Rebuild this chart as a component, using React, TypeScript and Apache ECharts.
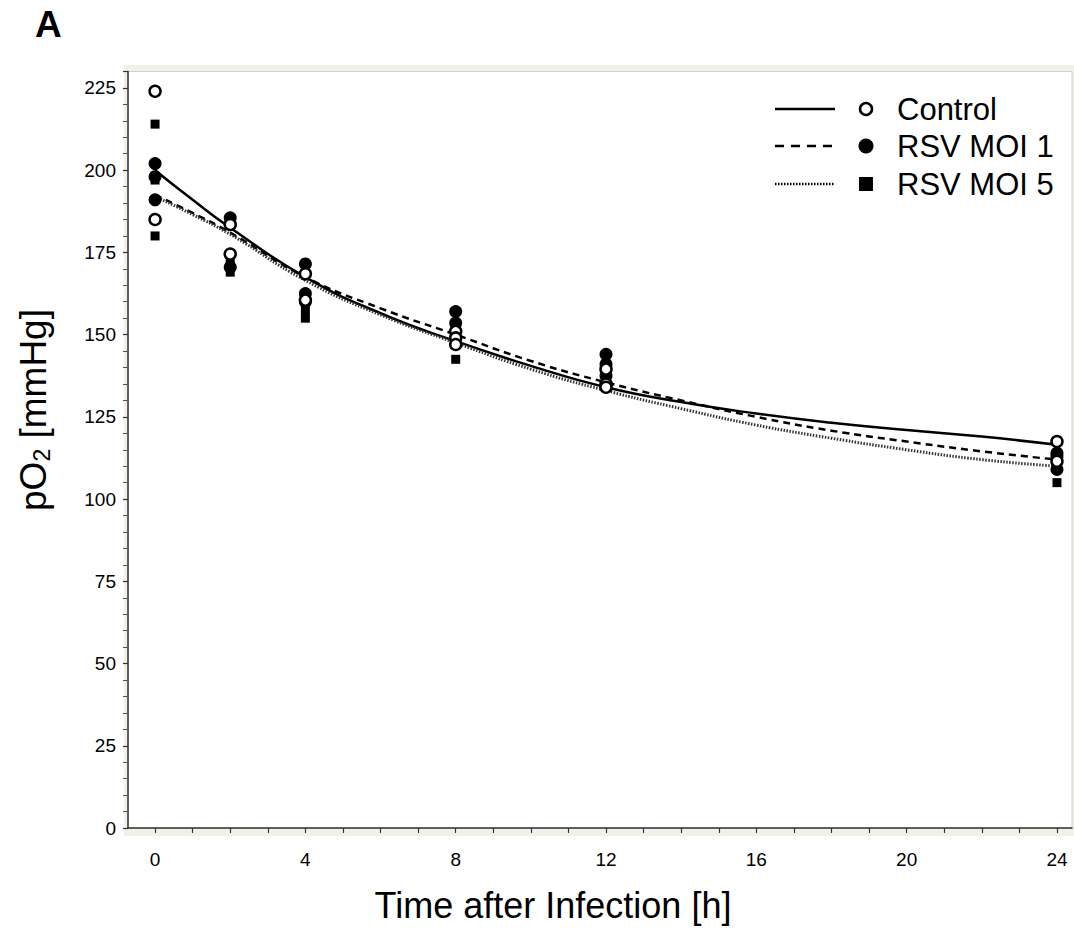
import React, { useEffect, useRef } from "react";
import * as echarts from "echarts";

// Fitted curves (read at these time points)
const curveTimes = [0, 1, 2, 4, 6, 8, 10, 12, 14, 16, 18, 20, 22, 24];
const controlFit = [200, 191, 182.5, 167.5, 156.5, 148, 140.5, 134, 129.5, 126, 123.2, 121, 119, 116.5];
const moi1Fit = [192.5, 187, 181, 167.5, 158, 150, 142, 135.5, 130, 125, 120.8, 117.5, 114.5, 112];
const moi5Fit = [192, 186.5, 180.5, 166.5, 156, 147.5, 139.5, 133, 127.5, 122.5, 118.5, 115, 112, 110];

// Measured points: [time (h), pO2 (mmHg)]
const controlPts: [number, number][] = [
  [0, 224], [0, 185],
  [2, 183.5], [2, 174.5],
  [4, 168.5], [4, 160.5],
  [8, 151], [8, 149], [8, 147],
  [12, 139.5], [12, 135], [12, 134],
  [24, 117.5], [24, 111.5],
];
const moi1Pts: [number, number][] = [
  [0, 202], [0, 198], [0, 191],
  [2, 185.5], [2, 170.5],
  [4, 171.5], [4, 162.5], [4, 160],
  [8, 157], [8, 153.5],
  [12, 144], [12, 141], [12, 137.5],
  [24, 114], [24, 113], [24, 109],
];
const moi5Pts: [number, number][] = [
  [0, 214], [0, 197], [0, 180],
  [2, 172], [2, 169],
  [4, 157.5], [4, 155],
  [8, 148], [8, 142.5],
  [12, 136], [12, 134],
  [24, 105],
];

const xLabels = [0, 4, 8, 12, 16, 20, 24];
const xTicks = Array.from({ length: 25 }, (_, i) => i);

const legendItems = ["Control", "RSV MOI 1", "RSV MOI 5"];

const FONT = "'Liberation Sans', Arial, Helvetica, sans-serif";

export default function App() {
  const ref = useRef<HTMLDivElement>(null);
  useEffect(() => {
    if (!ref.current) return;
    const chart = echarts.init(ref.current, undefined, { renderer: "svg" });
    const zip = (ts: number[], vs: number[]) => ts.map((t, i) => [t, vs[i]]);
    const lx1 = 775, lx2 = 835, mx = 866, tx = 897;
    const rows = [109, 146, 184];
    chart.setOption({
      animation: false,
      backgroundColor: "#ffffff",
      grid: {
        left: 128,
        right: 2,
        top: 71.5,
        bottom: 102,
        show: true,
        backgroundColor: "#ffffff",
        borderColor: "#cfcfcf",
        borderWidth: 1,
      },
      xAxis: {
        type: "value",
        min: -0.72,
        max: 24.4,
        splitLine: { show: false },
        axisLine: { show: true, onZero: false, lineStyle: { color: "#333", width: 1.5 } },
        axisTick: { show: true, customValues: xTicks, length: 5, lineStyle: { color: "#333", width: 1.2 } },
        axisLabel: {
          customValues: xLabels,
          margin: 22,
          fontSize: 19,
          color: "#000",
          fontFamily: FONT,
        },
      },
      yAxis: {
        type: "value",
        min: 0,
        max: 230,
        interval: 25,
        splitLine: { show: false },
        axisLine: { show: true, onZero: false, lineStyle: { color: "#333", width: 1.5 } },
        axisTick: { show: true, length: 5, lineStyle: { color: "#333", width: 1.2 } },
        minorTick: { show: true, splitNumber: 5, length: 5, lineStyle: { color: "#555", width: 1 } },
        axisLabel: {
          showMaxLabel: false,
          margin: 12,
          fontSize: 19,
          color: "#000",
          fontFamily: FONT,
        },
      },
      graphic: [
        {
          type: "rect",
          z: -10,
          shape: { x: 124, y: 65, width: 950, height: 771 },
          style: { fill: "#f1f1ea" },
        },
        {
          type: "text",
          left: 35,
          top: 6,
          style: { text: "A", font: `bold 37px ${FONT}`, fill: "#000" },
        },
        {
          type: "text",
          x: 553,
          y: 905,
          style: {
            text: "Time after Infection [h]",
            font: `36px ${FONT}`,
            fill: "#000",
            textAlign: "center",
            textVerticalAlign: "middle",
          },
        },
        {
          type: "text",
          x: 33,
          y: 410,
          rotation: Math.PI / 2,
          style: {
            text: "{a|pO}{b|2}{a| [mmHg]}",
            textAlign: "center",
            textVerticalAlign: "middle",
            fill: "#000",
            rich: {
              a: { fontSize: 37, lineHeight: 40, fontFamily: FONT, color: "#000" },
              b: { fontSize: 23, lineHeight: 22, verticalAlign: "bottom", fontFamily: FONT, color: "#000", padding: [6, 0, 0, 0] },
            },
          },
        },
        // legend
        { type: "line", shape: { x1: lx1, y1: rows[0], x2: lx2, y2: rows[0] }, style: { stroke: "#000", lineWidth: 2.5 } },
        { type: "line", shape: { x1: lx1, y1: rows[1], x2: lx2, y2: rows[1] }, style: { stroke: "#000", lineWidth: 2.5, lineDash: [9, 7] } },
        { type: "line", shape: { x1: lx1, y1: rows[2], x2: lx2, y2: rows[2] }, style: { stroke: "#000", lineWidth: 2.5, lineDash: [1.5, 1.5] } },
        { type: "circle", shape: { cx: mx, cy: rows[0], r: 6 }, style: { fill: "#fff", stroke: "#000", lineWidth: 2.5 } },
        { type: "circle", shape: { cx: mx, cy: rows[1], r: 7.5 }, style: { fill: "#000" } },
        { type: "rect", shape: { x: mx - 7, y: rows[2] - 7, width: 14, height: 14 }, style: { fill: "#000" } },
        ...legendItems.map((t, i) => ({
          type: "text",
          x: tx,
          y: rows[i],
          style: { text: t, font: `31px ${FONT}`, fill: "#000", textVerticalAlign: "middle" },
        })),
      ],
      series: [
        {
          name: "Control fit",
          type: "line",
          data: zip(curveTimes, controlFit),
          smooth: 0.5,
          showSymbol: false,
          lineStyle: { color: "#000", width: 2.5 },
          z: 2,
        },
        {
          name: "RSV MOI 1 fit",
          type: "line",
          data: zip(curveTimes, moi1Fit),
          smooth: 0.5,
          showSymbol: false,
          lineStyle: { color: "#000", width: 2.5, type: [7, 5] },
          z: 2,
        },
        {
          name: "RSV MOI 5 fit",
          type: "line",
          data: zip(curveTimes, moi5Fit),
          smooth: 0.5,
          showSymbol: false,
          lineStyle: { color: "#333", width: 3, type: [1.5, 1.5] },
          z: 2,
        },
        {
          name: "RSV MOI 5",
          type: "scatter",
          data: moi5Pts,
          symbol: "rect",
          symbolSize: 9,
          itemStyle: { color: "#000", opacity: 1 },
          z: 3,
        },
        {
          name: "RSV MOI 1",
          type: "scatter",
          data: moi1Pts,
          symbol: "circle",
          symbolSize: 13,
          itemStyle: { color: "#000", opacity: 1 },
          z: 4,
        },
        {
          name: "Control",
          type: "scatter",
          data: controlPts,
          symbol: "circle",
          symbolSize: 11,
          itemStyle: { color: "#fff", borderColor: "#000", borderWidth: 2.5, opacity: 1 },
          z: 5,
        },
      ],
    });
    return () => chart.dispose();
  }, []);
  return (
    <div
      ref={ref}
      style={{ position: "absolute", left: 0, top: 0, width: 1074, height: 930 }}
    />
  );
}
